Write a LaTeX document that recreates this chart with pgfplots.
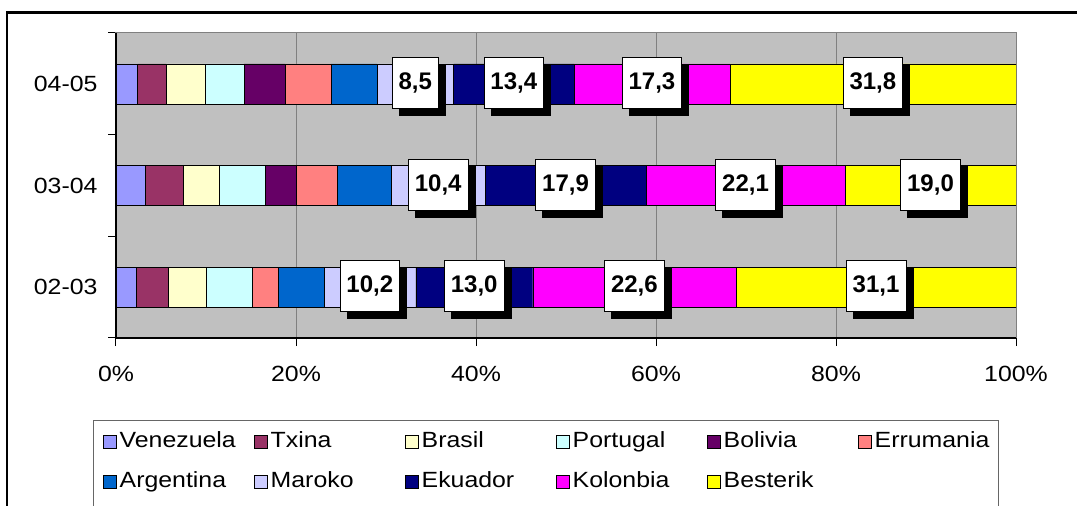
\documentclass[border=0pt]{standalone}
\usepackage{pgfplots}
\pgfplotsset{compat=1.18}
\usepackage{fontspec}
\setmainfont{Liberation Sans}
\newfontfamily\widefont[FakeStretch=1.13]{Liberation Sans}
\usetikzlibrary{shadows}
\definecolor{cVen}{HTML}{9999FF}
\definecolor{cTxi}{HTML}{993366}
\definecolor{cBra}{HTML}{FFFFCC}
\definecolor{cPor}{HTML}{CCFFFF}
\definecolor{cBol}{HTML}{660066}
\definecolor{cErr}{HTML}{FF8080}
\definecolor{cArg}{HTML}{0066CC}
\definecolor{cMar}{HTML}{CCCCFF}
\definecolor{cEku}{HTML}{000080}
\definecolor{cKol}{HTML}{FF00FF}
\definecolor{cBes}{HTML}{FFFF00}
\definecolor{cBg}{HTML}{C0C0C0}
\definecolor{cGrid}{HTML}{808080}
\pgfplotsset{
  lbl/.style={
    point meta=explicit,
    nodes near coords={\pgfmathprintnumber[fixed,fixed zerofill,precision=1,use comma]{\pgfplotspointmeta}},
    every node near coord/.append style={anchor=center, fill=white, draw=black, line width=0.8pt,
       font=\bfseries\fontsize{24}{28}\selectfont, text=black, inner xsep=6.5pt, inner ysep=0pt,
       minimum height=51pt, yshift=1pt,
       drop shadow={shadow xshift=7pt, shadow yshift=-7pt, fill=black, opacity=1}},
  },
}
\begin{document}
\begin{tikzpicture}[x=1pt,y=1pt]
\useasboundingbox (0,0) rectangle (1077,506);
\clip (0,0) rectangle (1077,506);
\begin{axis}[
  at={(116pt,168pt)}, anchor=south west, scale only axis,
  width=900pt, height=305pt,
  xbar stacked, bar width=40pt,
  xmin=0, xmax=100, ymin=-0.5, ymax=2.5,
  enlargelimits=false,
  /pgf/number format/assume math mode=true,
  axis background/.style={fill=cBg},
  axis line style={draw=cGrid, line width=1pt},
  xtick={0,20,...,100},
  xticklabel={\pgfmathprintnumber{\tick}\%},
  xticklabel style={yshift=-17pt},
  xmajorgrids, major grid style={draw=cGrid, line width=1pt},
  ytick={-0.5,0.5,1.5,2.5}, yticklabels={},
  extra y ticks={0,1,2}, extra y tick labels={02-03,03-04,04-05},
  extra y tick style={major tick length=0pt, grid=none},
  yticklabel style={xshift=-15pt},
  tick align=outside, xtick pos=bottom, ytick pos=left,
  major tick length=8pt,
  tick style={black, line width=1pt},
  tick label style={font=\widefont\fontsize{22}{26}\selectfont},
  every bar/.append style={draw=black, line width=1.5pt},
  legend columns=6,
  legend cell align=left,
  legend style={at={(-0.015,-0.307)}, anchor=north west, draw=none, fill=none,
     inner sep=0pt, column sep=0pt, row sep=19pt,
     font=\widefont\fontsize{22}{26}\selectfont,
     nodes={text width=131pt, inner xsep=3pt, inner ysep=0pt, text height=16pt, text depth=5pt}},
  legend image code/.code={\draw[#1, draw=black, line width=1pt] (0pt,-6.5pt) rectangle (13pt,6.5pt);},
  after end axis/.code={\draw[black, line width=1.2pt] (rel axis cs:0,1) -- (rel axis cs:0,0) -- (rel axis cs:1,0);},
]
\addplot[fill=cVen] coordinates {(2.2,0) (3.2,1) (2.4,2)};
\addlegendentry{Venezuela}
\addplot[fill=cTxi] coordinates {(3.6,0) (4.3,1) (3.2,2)};
\addlegendentry{Txina}
\addplot[fill=cBra] coordinates {(4.2,0) (4.0,1) (4.3,2)};
\addlegendentry{Brasil}
\addplot[fill=cPor] coordinates {(5.1,0) (5.1,1) (4.3,2)};
\addlegendentry{Portugal}
\addplot[fill=cBol] coordinates {(0,0) (3.4,1) (4.6,2)};
\addlegendentry{Bolivia}
\addplot[fill=cErr] coordinates {(2.9,0) (4.6,1) (5.1,2)};
\addlegendentry{Errumania}
\addplot[fill=cArg] coordinates {(5.1,0) (6.0,1) (5.1,2)};
\addlegendentry{Argentina}
\addplot[fill=cMar, lbl] coordinates {(10.2,0) [10.2] (10.4,1) [10.4] (8.5,2) [8.5]};
\addlegendentry{Maroko}
\addplot[fill=cEku, lbl] coordinates {(13.0,0) [13.0] (17.9,1) [17.9] (13.4,2) [13.4]};
\addlegendentry{Ekuador}
\addplot[fill=cKol, lbl] coordinates {(22.6,0) [22.6] (22.1,1) [22.1] (17.3,2) [17.3]};
\addlegendentry{Kolonbia}
\addplot[fill=cBes, lbl] coordinates {(31.1,0) [31.1] (19.0,1) [19.0] (31.8,2) [31.8]};
\addlegendentry{Besterik}
\end{axis}
\draw[line width=2.5pt] (7,-20) -- (7,493.5) -- (1100,493.5);
\draw[line width=1pt, black!60] (93,-20) -- (93,85) -- (998,85) -- (998,-20);
\end{tikzpicture}
\end{document}
